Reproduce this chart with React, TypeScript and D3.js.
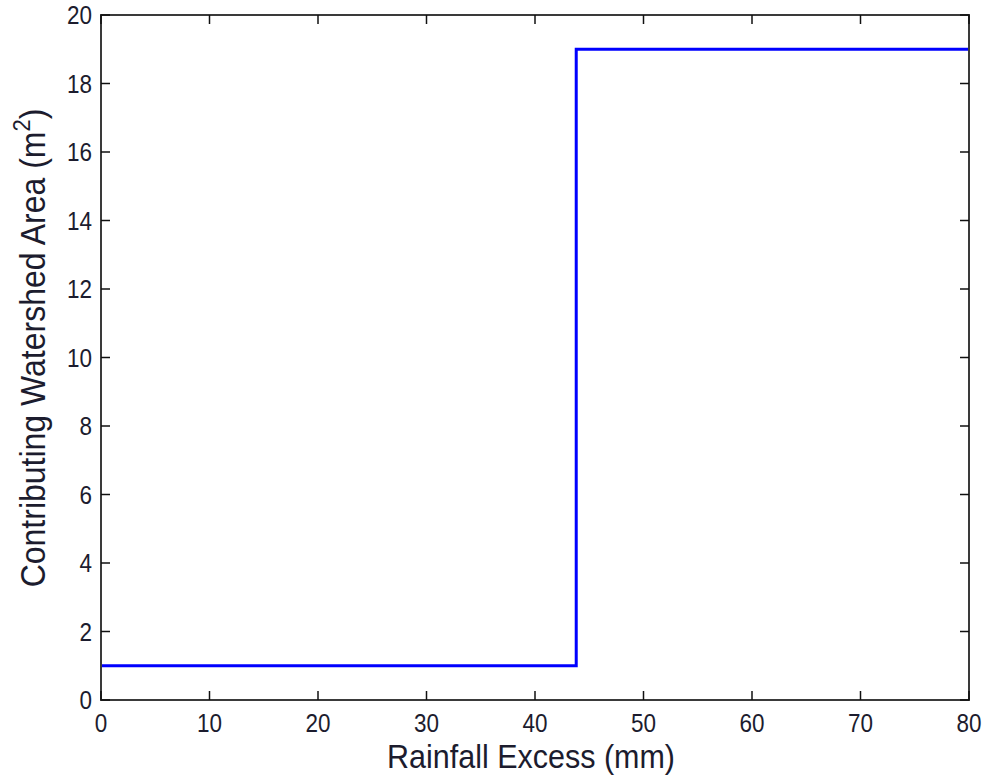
import React from "react";
import * as d3 from "d3";

const xTicks = [0, 10, 20, 30, 40, 50, 60, 70, 80];
const yTicks = [0, 2, 4, 6, 8, 10, 12, 14, 16, 18, 20];
const stepX = [0, 43.8, 43.8, 80];
const stepY = [1, 1, 19, 19];

const W = 986, H = 776;
const M = { left: 101, right: 969, top: 15, bottom: 700 };

export default function App() {
  const x = d3.scaleLinear().domain([0, 80]).range([M.left, M.right]);
  const y = d3.scaleLinear().domain([0, 20]).range([M.bottom, M.top]);
  const pts: [number, number][] = stepX.map((v, i) => [v, stepY[i]]);
  const line = d3.line<[number, number]>().x(d => x(d[0])).y(d => y(d[1]));
  const font = "Arial, 'Liberation Sans', sans-serif";
  const tc = "#1c1c2e";
  const tl = 9;
  const ts = 22.5;
  const sy = 1.12;
  return (
    <svg width={W} height={H} style={{ position: "absolute", left: 0, top: 0, background: "#fff" }}>
      <rect x={0} y={0} width={W} height={H} fill="#fff" />
      <path d={line(pts) || ""} fill="none" stroke="#0000ff" strokeWidth={3} />
      <rect x={M.left} y={M.top} width={M.right - M.left} height={M.bottom - M.top} fill="none" stroke="#3a3a3a" strokeWidth={2} />
      {xTicks.map(t => (
        <g key={"x" + t}>
          <line x1={x(t)} x2={x(t)} y1={M.bottom} y2={M.bottom - tl} stroke="#111" strokeWidth={1.5} />
          <line x1={x(t)} x2={x(t)} y1={M.top} y2={M.top + tl} stroke="#111" strokeWidth={1.5} />
          <text transform={`translate(${x(t)},732) scale(1,${sy})`} textAnchor="middle" fontFamily={font} fontSize={ts} fill={tc}>{t}</text>
        </g>
      ))}
      {yTicks.map(t => (
        <g key={"y" + t}>
          <line x1={M.left} x2={M.left + tl} y1={y(t)} y2={y(t)} stroke="#111" strokeWidth={1.5} />
          <line x1={M.right} x2={M.right - tl} y1={y(t)} y2={y(t)} stroke="#111" strokeWidth={1.5} />
          <text transform={`translate(${M.left - 9},${y(t) + 9}) scale(1,${sy})`} textAnchor="end" fontFamily={font} fontSize={ts} fill={tc}>{t}</text>
        </g>
      ))}
      <text transform={`translate(531,768) scale(1,1.08)`} textAnchor="middle" fontFamily={font} fontSize={30.5} fill={tc}>Rainfall Excess (mm)</text>
      <text transform={`translate(45,348) rotate(-90) scale(1,1.08)`} textAnchor="middle" fontFamily={font} fontSize={32} fill={tc}>
        Contributing Watershed Area (m<tspan dy={-14} fontSize={22}>2</tspan><tspan dy={14}>)</tspan>
      </text>
    </svg>
  );
}
